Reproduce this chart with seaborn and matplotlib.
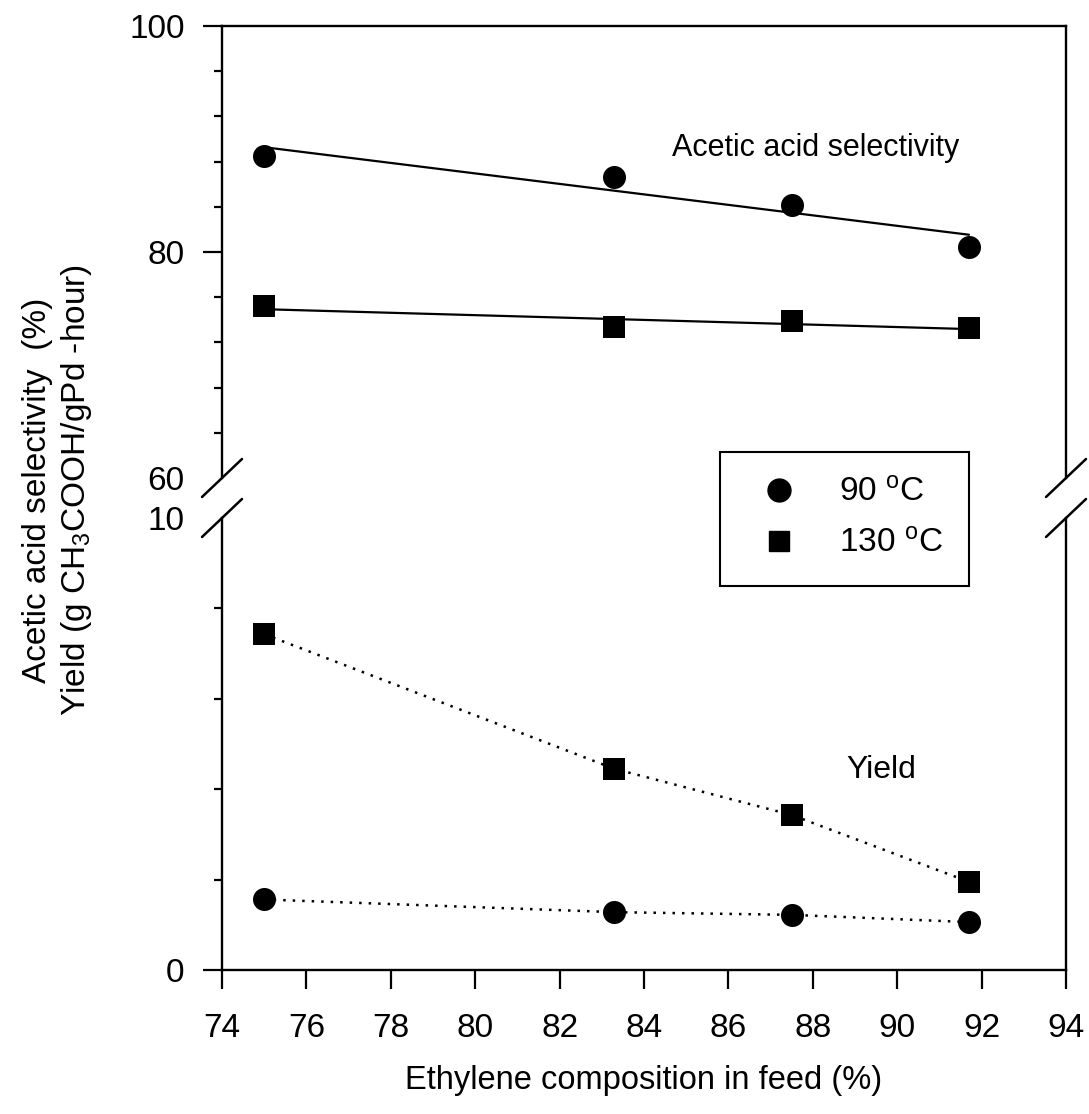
import numpy as np
import pandas as pd
import matplotlib
matplotlib.use("Agg")
import matplotlib.pyplot as plt
import seaborn as sns
from matplotlib.lines import Line2D
from matplotlib.ticker import MultipleLocator

# ---------------- data ----------------
ethylene = [75.0, 83.3, 87.5, 91.7]
sel_90 = [88.5, 86.6, 84.2, 80.4]
sel_130 = [75.2, 73.4, 73.9, 73.3]
yield_90 = [1.56, 1.28, 1.22, 1.06]
yield_130 = [7.43, 4.45, 3.43, 1.95]
x_ticks = [74, 76, 78, 80, 82, 84, 86, 88, 90, 92, 94]
sel_ticks = [60, 80, 100]
yield_ticks = [0, 10]
series_labels = ["90 $^{\\mathrm{o}}$C", "130 $^{\\mathrm{o}}$C"]

df = pd.DataFrame({"ethylene": ethylene, "sel_90": sel_90, "sel_130": sel_130,
                   "yield_90": yield_90, "yield_130": yield_130})

# ---------------- style ----------------
sns.set_theme(style="ticks")
plt.rcParams['font.family'] = ['Liberation Sans', 'DejaVu Sans']
plt.rcParams['mathtext.fontset'] = 'custom'
plt.rcParams['mathtext.rm'] = 'Liberation Sans'
plt.rcParams['mathtext.it'] = 'Liberation Sans:italic'
plt.rcParams['axes.edgecolor'] = 'black'
plt.rcParams['xtick.color'] = 'black'
plt.rcParams['ytick.color'] = 'black'
plt.rcParams['text.color'] = 'black'
plt.rcParams['axes.linewidth'] = 1.7

W, H = 1089, 1114
fig = plt.figure(figsize=(W / 100, H / 100), dpi=100)


def fy(px):
    return 1 - px / H


L, R = 222 / W, 1066 / W
ax_top = fig.add_axes([L, fy(478), R - L, fy(26) - fy(478)])
ax_bot = fig.add_axes([L, fy(970), R - L, fy(518) - fy(970)])

circ_s = 275
sq_s = 245
dot_ls = (0, (1, 2.8))
FS = 24

# upper panel: selectivity with linear fits
sns.regplot(data=df, x="ethylene", y="sel_90", ax=ax_top, ci=None, scatter=False,
            line_kws=dict(color="black", lw=1.6))
sns.regplot(data=df, x="ethylene", y="sel_130", ax=ax_top, ci=None, scatter=False,
            line_kws=dict(color="black", lw=1.6))
sns.scatterplot(data=df, x="ethylene", y="sel_90", ax=ax_top, marker="o", s=circ_s,
                color="black", edgecolor="black", linewidth=0, zorder=5)
sns.scatterplot(data=df, x="ethylene", y="sel_130", ax=ax_top, marker="s", s=sq_s,
                color="black", edgecolor="black", linewidth=0, zorder=5)

# lower panel: yield, dotted
sns.lineplot(data=df, x="ethylene", y="yield_90", ax=ax_bot, color="black", lw=1.8,
             linestyle=dot_ls)
sns.lineplot(data=df, x="ethylene", y="yield_130", ax=ax_bot, color="black", lw=1.8,
             linestyle=dot_ls)
sns.scatterplot(data=df, x="ethylene", y="yield_90", ax=ax_bot, marker="o", s=circ_s,
                color="black", edgecolor="black", linewidth=0, zorder=5)
sns.scatterplot(data=df, x="ethylene", y="yield_130", ax=ax_bot, marker="s", s=sq_s,
                color="black", edgecolor="black", linewidth=0, zorder=5)

# ---------------- axes ----------------
for ax in (ax_top, ax_bot):
    ax.set_xlim(74, 94)
    ax.set_xlabel("")
    ax.set_ylabel("")
    for sp in ax.spines.values():
        sp.set_linewidth(1.7)
        sp.set_color("black")

ax_top.set_ylim(60, 100)
ax_top.set_yticks(sel_ticks)
ax_top.yaxis.set_minor_locator(MultipleLocator(4))
ax_top.spines["bottom"].set_visible(False)
ax_top.tick_params(axis="x", which="both", bottom=False, top=False, labelbottom=False)
ax_top.tick_params(axis="y", which="major", left=True, direction="out", length=14,
                   width=1.6, labelsize=FS, pad=13)
ax_top.tick_params(axis="y", which="minor", left=True, direction="out", length=6,
                   width=1.6)
ax_top.yaxis.get_major_ticks()[0].tick1line.set_visible(False)

ax_bot.set_ylim(0, 10)
ax_bot.set_yticks(yield_ticks)
ax_bot.yaxis.set_minor_locator(MultipleLocator(2))
ax_bot.set_xticks(x_ticks)
ax_bot.spines["top"].set_visible(False)
ax_bot.tick_params(axis="y", which="major", left=True, direction="out", length=14,
                   width=1.6, labelsize=FS, pad=13)
ax_bot.tick_params(axis="y", which="minor", left=True, direction="out", length=6,
                   width=1.6)
ax_bot.tick_params(axis="x", which="major", bottom=True, direction="out", length=14,
                   width=1.6, labelsize=FS, pad=17)
ax_bot.yaxis.get_major_ticks()[1].tick1line.set_visible(False)

# break marks
dx = 20 / 844
dy = 19 / 452
for xa in (0, 1):
    ax_top.plot([xa - dx, xa + dx], [-dy, dy], transform=ax_top.transAxes,
                color="black", lw=1.8, clip_on=False)
    ax_bot.plot([xa - dx, xa + dx], [1 - dy, 1 + dy], transform=ax_bot.transAxes,
                color="black", lw=1.8, clip_on=False)

# annotations
ax_top.text(84.66, 89.2, "Acetic acid selectivity", ha="left", va="center", fontsize=22)
ax_bot.text(88.8, 4.42, "Yield", ha="left", va="center", fontsize=23)

# axis labels
fig.text(38 / W, fy(490), "Acetic acid selectivity  (%)", rotation=90, ha="center",
         va="center", fontsize=FS)
fig.text(77 / W, fy(490), "Yield (g CH$_3$COOH/gPd -hour)", rotation=90, ha="center",
         va="center", fontsize=FS)
fig.text(644 / W, fy(1081), "Ethylene composition in feed (%)", ha="center",
         va="center", fontsize=23.5)

# legend
handles = [Line2D([], [], marker="o", color="black", ls="none", markersize=16.5),
           Line2D([], [], marker="s", color="black", ls="none", markersize=15)]
leg = fig.legend(handles, series_labels, loc="upper left",
                 bbox_to_anchor=(720 / W, fy(452)), bbox_transform=fig.transFigure,
                 borderaxespad=0, frameon=True, fancybox=False, fontsize=FS,
                 handletextpad=0.8, borderpad=0.78, labelspacing=0.6)
leg.get_frame().set_edgecolor("black")
leg.get_frame().set_linewidth(1.5)
leg.get_frame().set_facecolor("white")
leg.get_frame().set_alpha(1)

fig.savefig("out.png", dpi=100)
